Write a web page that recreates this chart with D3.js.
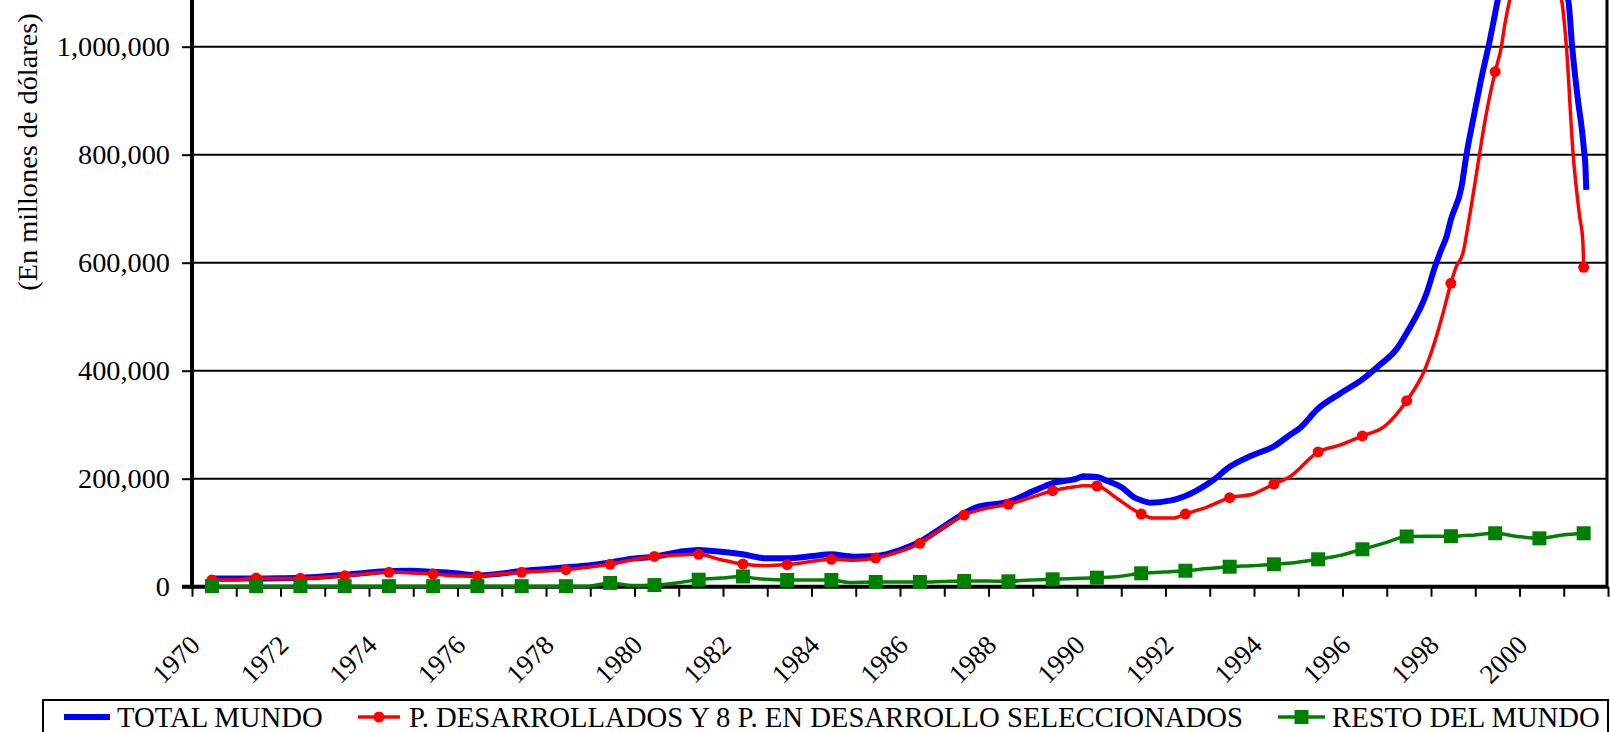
<!DOCTYPE html>
<html>
<head>
<meta charset="utf-8">
<script src="https://cdn.jsdelivr.net/npm/d3@7"></script>
<style>
  body { margin: 0; background: #fff; }
  svg { display: block; }
  text { font-family: "Liberation Serif", "Times New Roman", serif; fill: #000; }
</style>
</head>
<body>
<svg id="chart" width="1610" height="732"></svg>
<script>
// Years on the category axis and mid-year observation points
const years = [1970, 1971, 1972, 1973, 1974, 1975, 1976, 1977, 1978, 1979, 1980,
               1981, 1982, 1983, 1984, 1985, 1986, 1987, 1988, 1989, 1990,
               1991, 1992, 1993, 1994, 1995, 1996, 1997, 1998, 1999, 2000, 2001];
const tickYears = [1970, 1971, 1972, 1973, 1974, 1975, 1976, 1977, 1978, 1979, 1980,
                   1981, 1982, 1983, 1984, 1985, 1986, 1987, 1988, 1989, 1990,
                   1991, 1992, 1993, 1994, 1995, 1996, 1997, 1998, 1999, 2000, 2001, 2002];
const labelYears = [1970, 1972, 1974, 1976, 1978, 1980, 1982, 1984, 1986, 1988,
                    1990, 1992, 1994, 1996, 1998, 2000];
const yTicks = [0, 200000, 400000, 600000, 800000, 1000000];

// TOTAL MUNDO: mid-year values and the points between them
const totalMundo = [15000, 15000, 16700, 22000, 29000, 27500, 21000, 29000, 36000, 45000, 55600,
                    68000, 60000, 52600, 60000, 56900, 83300, 135900, 157400, 192000, 203000,
                    160000, 168000, 222000, 260000, 330000, 384000, 470000, 680000, 1062000, 1160000, 815000];
const totalMundoBetween = [
  [1970.95, 15000], [1971.95, 15500], [1972.95, 19000], [1973.95, 26000], [1974.95, 29500],
  [1975.95, 25000], [1976.95, 24000], [1977.95, 32500], [1978.95, 39500], [1979.95, 52000],
  [1981.03, 64800], [1981.7, 66700], [1982.98, 52600], [1984.04, 56900], [1984.94, 55600],
  [1986.0, 68000], [1986.98, 111100], [1987.73, 147000], [1988.26, 154400], [1989.01, 177000],
  [1989.99, 200000], [1990.14, 204500], [1990.67, 196300], [1991.04, 182200], [1991.27, 166700],
  [1991.65, 155600], [1992.10, 159300], [1993.08, 197600], [1993.95, 243000], [1994.81, 280900],
  [1995.03, 293300], [1995.95, 358000], [1996.84, 410600], [1997.22, 440000], [1997.90, 543300],
  [1998.09, 592600], [1998.23, 623500], [1998.35, 648100], [1998.69, 740700], [1998.80, 799400],
  [1998.95, 864300], [1999.13, 938300], [1999.33, 1012400], [1999.51, 1086500], [2000.0, 1150000],
  [2000.8, 1130000], [2001.10, 1086500], [2001.19, 1000000], [2001.32, 901600], [2001.42, 839800],
  [2001.49, 778000], [2001.51, 735000]
];

// P. DESARROLLADOS Y 8 P. EN DESARROLLO SELECCIONADOS
const desarrollados = [12400, 16000, 15600, 20400, 26700, 23500, 19800, 26700, 31500, 41500, 56000,
                       60000, 42000, 41000, 50700, 53100, 80400, 132800, 152600, 177800, 186500,
                       134600, 134600, 164800, 190200, 249500, 279300, 344500, 561900, 953700, 1150000, 591500];
const desarrolladosBetween = [
  [1970.95, 12400], [1971.95, 15000], [1972.95, 17500], [1973.95, 24000], [1974.95, 25500],
  [1975.95, 20000], [1976.95, 23500], [1977.95, 29000], [1978.95, 36000], [1979.95, 50000],
  [1980.95, 58500], [1981.95, 50000], [1982.95, 39000], [1983.95, 46000], [1984.95, 49000],
  [1985.95, 64000], [1986.95, 108000], [1987.95, 145000], [1988.95, 165000], [1989.95, 185000],
  [1990.14, 187000], [1990.9, 163700], [1991.27, 143000], [1991.72, 127000], [1992.18, 127000],
  [1992.95, 148000], [1993.98, 171700], [1994.81, 203700], [1995.94, 262000], [1996.95, 297000],
  [1997.85, 400000], [1998.12, 463000], [1998.27, 506000], [1998.57, 592600], [1998.72, 617400],
  [1998.87, 685200], [1999.10, 802500], [1999.21, 858000], [1999.59, 1000000], [1999.66, 1037000],
  [1999.78, 1086500], [2000.0, 1130000], [2000.75, 1120000], [2000.95, 1086500], [2001.06, 1000000],
  [2001.21, 802500], [2001.36, 685200], [2001.43, 642000]
];

// RESTO DEL MUNDO
const restoMundo = [1000, 1000, 1000, 1000, 1000, 1000, 1000, 1000, 1000, 7000, 3000,
                    13000, 19000, 12400, 12400, 8700, 8700, 10600, 10000, 13700, 16700,
                    24800, 29600, 37000, 41500, 50700, 69300, 93000, 93500, 98900, 89600, 98900];
const restoMundoBetween = [
  [1970.95, 1000], [1971.95, 1000], [1972.95, 1000], [1973.95, 1000], [1974.95, 1000],
  [1975.95, 1000], [1976.95, 1000], [1977.95, 1000], [1978.95, 1000], [1979.95, 2000],
  [1980.95, 7000], [1981.95, 16000], [1982.7, 15600], [1983.95, 12400], [1984.85, 8000],
  [1985.95, 8700], [1986.95, 9500], [1987.95, 10600], [1988.95, 12400], [1989.95, 15000],
  [1990.95, 19000], [1991.95, 27000], [1992.95, 33500], [1993.95, 39000], [1994.95, 45000],
  [1995.95, 58000], [1996.98, 81500], [1997.95, 93500], [1998.95, 95500], [1999.95, 93000],
  [2000.98, 95700]
];

const MID_YEAR = 0.45;   // where the yearly observation sits inside its category

const svg = d3.select("#chart");
const W = 1610, H = 732;
const left = 192, right = 1608, bottom = 586.7;

const x = d3.scaleLinear().domain([1970, 2002]).range([left, right]);
const y = d3.scaleLinear().domain([0, 1200000]).range([bottom, bottom - 6 * 108]);

svg.append("rect").attr("width", W).attr("height", H).attr("fill", "#fff");

svg.append("defs").append("clipPath").attr("id", "plotClip")
  .append("rect").attr("x", left).attr("y", 0).attr("width", right - left).attr("height", bottom + 10);

// gridlines
svg.append("g").selectAll("line").data(yTicks.filter(d => d > 0)).join("line")
  .attr("x1", left).attr("x2", right)
  .attr("y1", d => y(d)).attr("y2", d => y(d))
  .attr("stroke", "#000").attr("stroke-width", 2);

// right border of the plot area
svg.append("line").attr("x1", right - 1).attr("x2", right - 1).attr("y1", 0).attr("y2", bottom)
  .attr("stroke", "#000").attr("stroke-width", 3);

// y axis
const yAxis = svg.append("g").attr("transform", `translate(${left},0)`)
  .call(d3.axisLeft(y).tickValues(yTicks).tickSize(10).tickPadding(12).tickFormat(d3.format(",")));
yAxis.select(".domain").remove();
yAxis.selectAll(".tick line").attr("stroke", "#000").attr("stroke-width", 2);
yAxis.selectAll(".tick text").attr("font-size", 28.3).attr("font-family", "Liberation Serif");

// x axis
const xAxis = svg.append("g").attr("transform", `translate(0,${bottom})`)
  .call(d3.axisBottom(x).tickValues(tickYears).tickSize(10)
    .tickFormat(d => labelYears.includes(d) ? String(d) : ""));
xAxis.select(".domain").remove();
xAxis.selectAll(".tick line").attr("stroke", "#000").attr("stroke-width", 2);
xAxis.selectAll(".tick text")
  .attr("font-size", 27).attr("font-family", "Liberation Serif")
  .attr("text-anchor", "end").attr("x", 0).attr("y", 0).attr("dy", 0)
  .attr("transform", "translate(9,60) rotate(-45)");

// axis lines
svg.append("line").attr("x1", left).attr("x2", left).attr("y1", 0).attr("y2", bottom + 2)
  .attr("stroke", "#000").attr("stroke-width", 4);
svg.append("line").attr("x1", left - 10).attr("x2", right).attr("y1", bottom).attr("y2", bottom)
  .attr("stroke", "#000").attr("stroke-width", 4);

// series
function seriesPoints(values, between) {
  return years.map((yr, i) => [yr + MID_YEAR, values[i]])
    .concat(between)
    .sort((a, b) => a[0] - b[0]);
}

const line = d3.line().x(d => x(d[0])).y(d => y(d[1])).curve(d3.curveMonotoneX);
const plot = svg.append("g").attr("clip-path", "url(#plotClip)");

const series = [
  { name: "TOTAL MUNDO", values: totalMundo, between: totalMundoBetween, color: "#0000ff", width: 6, marker: null },
  { name: "P. DESARROLLADOS Y 8 P. EN DESARROLLO SELECCIONADOS", values: desarrollados, between: desarrolladosBetween, color: "#ff0000", width: 3.5, marker: "circle" },
  { name: "RESTO DEL MUNDO", values: restoMundo, between: restoMundoBetween, color: "#008000", width: 3.5, marker: "square" }
];

series.forEach(s => {
  const pts = seriesPoints(s.values, s.between);
  plot.append("path").datum(pts)
    .attr("fill", "none").attr("stroke", s.color).attr("stroke-width", s.width)
    .attr("stroke-linejoin", "round").attr("d", line);
  const mk = years.map((yr, i) => [yr + MID_YEAR, s.values[i]]);
  if (s.marker === "circle") {
    plot.append("g").selectAll("circle").data(mk).join("circle")
      .attr("cx", d => x(d[0])).attr("cy", d => y(d[1])).attr("r", 5.5).attr("fill", s.color);
  } else if (s.marker === "square") {
    plot.append("g").selectAll("rect").data(mk).join("rect")
      .attr("x", d => x(d[0]) - 7).attr("y", d => y(d[1]) - 7)
      .attr("width", 14).attr("height", 14).attr("fill", s.color);
  }
});

// y-axis title
svg.append("text")
  .attr("transform", "translate(37,152) rotate(-90)")
  .attr("text-anchor", "middle").attr("font-size", 28.3)
  .text("(En millones de dólares)");

// legend
const legend = svg.append("g");
legend.append("rect").attr("x", 43).attr("y", 700).attr("width", 1565).attr("height", 60)
  .attr("fill", "#fff").attr("stroke", "#000").attr("stroke-width", 2);
const legendItems = [
  { s: series[0], x0: 64, x1: 110, tx: 117 },
  { s: series[1], x0: 358, x1: 400, tx: 409 },
  { s: series[2], x0: 1278, x1: 1325, tx: 1332 }
];
legendItems.forEach(it => {
  const ly = 717;
  legend.append("line").attr("x1", it.x0).attr("x2", it.x1).attr("y1", ly).attr("y2", ly)
    .attr("stroke", it.s.color).attr("stroke-width", it.s.width);
  const cx = (it.x0 + it.x1) / 2;
  if (it.s.marker === "circle") {
    legend.append("circle").attr("cx", cx).attr("cy", ly).attr("r", 5.5).attr("fill", it.s.color);
  } else if (it.s.marker === "square") {
    legend.append("rect").attr("x", cx - 7).attr("y", ly - 7).attr("width", 14).attr("height", 14)
      .attr("fill", it.s.color);
  }
  legend.append("text").attr("x", it.tx).attr("y", 727).attr("font-size", 28.7).text(it.s.name);
});
</script>
</body>
</html>
